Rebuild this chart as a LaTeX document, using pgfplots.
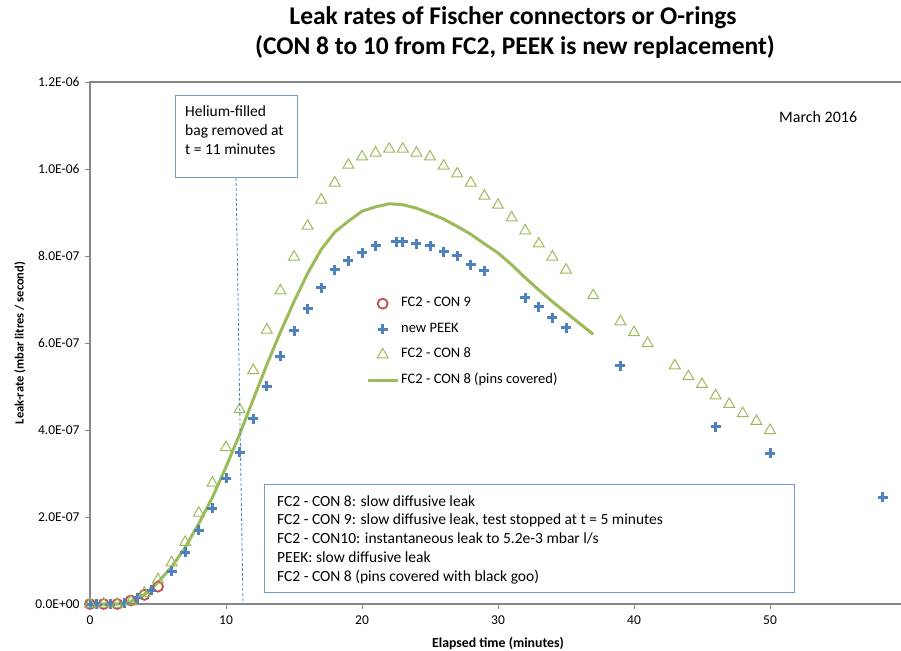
\documentclass[border=0pt]{standalone}
\usepackage{fontspec}
\setmainfont{Carlito}
\usepackage{pgfplots}
\pgfplotsset{compat=1.18}
\definecolor{xblue}{HTML}{4F81BD}
\definecolor{xgreen}{HTML}{9BBB59}
\definecolor{xred}{HTML}{C0504D}
\definecolor{axgray}{HTML}{868686}
\begin{document}
\begin{tikzpicture}[x=1pt,y=1pt]
\useasboundingbox (0,0) rectangle (901,650);
\begin{axis}[
  scale only axis, width=816pt, height=522pt,
  at={(90pt,46pt)}, anchor=south west,
  xmin=0, xmax=60, ymin=0, ymax=1.2e-6,
  clip=false,
  axis line style={axgray, line width=1.2pt},
  tick style={axgray, line width=0.8pt},
  tick align=outside, major tick length=5pt,
  xtick pos=lower, ytick pos=left,
  xtick={0,10,20,30,40,50},
  ytick={0,2e-7,4e-7,6e-7,8e-7,1e-6,1.2e-6},
  yticklabels={0.0E+00,2.0E-07,4.0E-07,6.0E-07,8.0E-07,1.0E-06,1.2E-06},
  scaled y ticks=false,
  /pgf/number format/assume math mode=true,
  ticklabel style={font=\fontsize{13.5}{15}\selectfont},
  yticklabel style={xshift=-2pt},
  xticklabel style={yshift=-3pt},
  legend style={draw=none, fill=none, at={(rel axis cs:0.3382,0.5925)}, anchor=north west,
    font=\fontsize{14.5}{16}\selectfont, row sep=8pt, inner sep=0pt,
    nodes={text height=10pt, text depth=3.5pt, inner sep=2pt}},
  legend cell align=left,
  legend image code/.code={\draw[mark repeat=2,mark phase=2,#1] plot coordinates {(0pt,0pt) (15pt,0pt) (30pt,0pt)};},
]
\addplot[only marks, mark=o, mark size=5pt, xred, line width=1.8pt] coordinates {
 (0,0) (1,0) (2,0) (3,8e-9) (4,2.1e-8) (5,4e-8)};
\addlegendentry{FC2 - CON 9}
\addplot[only marks, mark=+, mark size=5pt, xblue, line width=3pt] coordinates {
 (0,0) (0.5,0) (1.5,0) (2.5,2e-9) (3.5,1.4e-8) (4.5,3.2e-8)
 (6,7.5e-8) (7,1.19e-7) (8,1.70e-7) (9,2.2e-7) (10,2.89e-7) (11,3.49e-7) (12,4.26e-7)
 (13,5.0e-7) (14,5.69e-7) (15,6.28e-7) (16,6.79e-7) (17,7.27e-7) (18,7.68e-7) (19,7.89e-7)
 (20,8.07e-7) (21,8.23e-7) (22.5,8.33e-7) (23,8.33e-7) (24,8.28e-7) (25,8.23e-7) (26,8.1e-7)
 (27,8.0e-7) (28,7.8e-7) (29,7.66e-7) (32,7.04e-7) (33,6.83e-7) (34,6.58e-7) (35,6.35e-7)
 (39,5.48e-7) (46,4.08e-7) (50,3.46e-7) (58.3,2.45e-7)};
\addlegendentry{new PEEK}
\addplot[only marks, mark=triangle, mark size=6.3pt, xgreen, line width=1pt] coordinates {
 (0,0) (1,0) (2,0) (3,5e-9) (4,2.5e-8) (5,5.6e-8) (6,9.5e-8) (7,1.42e-7) (8,2.09e-7)
 (9,2.78e-7) (10,3.6e-7) (11,4.47e-7) (12,5.37e-7) (13,6.3e-7) (14,7.2e-7) (15,7.98e-7)
 (16,8.69e-7) (17,9.29e-7) (18,9.68e-7) (19,1.009e-6) (20,1.028e-6) (21,1.037e-6)
 (22,1.046e-6) (23,1.046e-6) (24,1.037e-6) (25,1.028e-6) (26,1.007e-6) (27,9.89e-7)
 (28,9.68e-7) (29,9.38e-7) (30,9.17e-7) (31,8.88e-7) (32,8.58e-7) (33,8.28e-7)
 (34,7.98e-7) (35,7.68e-7) (37,7.09e-7) (39,6.49e-7) (40,6.24e-7) (41,5.99e-7)
 (43,5.48e-7) (44,5.23e-7) (45,5.05e-7) (46,4.79e-7) (47,4.59e-7) (48,4.38e-7)
 (49,4.2e-7) (50,3.99e-7)};
\addlegendentry{FC2 - CON 8}
\addplot[no marks, xgreen, line width=3pt] coordinates {
 (0,0) (1,0) (2,0) (3,5e-9) (4,2.2e-8) (5,5e-8) (6,8.5e-8) (7,1.3e-7) (8,1.85e-7)
 (9,2.45e-7) (10,3.15e-7) (11,3.9e-7) (12,4.7e-7) (13,5.5e-7) (14,6.25e-7) (15,6.95e-7)
 (16,7.6e-7) (17,8.15e-7) (18,8.55e-7) (19,8.8e-7) (20,9.03e-7) (21,9.13e-7) (22,9.2e-7)
 (23,9.18e-7) (24,9.1e-7) (25,8.98e-7) (26,8.85e-7) (27,8.68e-7) (28,8.5e-7) (29,8.28e-7)
 (30,8.07e-7) (31,7.8e-7) (32,7.5e-7) (33,7.22e-7) (34,6.95e-7) (35,6.7e-7) (36,6.45e-7)
 (37,6.2e-7)};
\addlegendentry{FC2 - CON 8 (pins covered)}
\end{axis}
% titles and labels
\node[font=\bfseries\fontsize{25.5}{28}\selectfont] at (513,632) {Leak rates of Fischer connectors or O-rings};
\node[font=\bfseries\fontsize{25.5}{28}\selectfont] at (515,603) {(CON 8 to 10 from FC2, PEEK is new replacement)};
\node[font=\bfseries\fontsize{13.8}{16}\selectfont] at (498,7) {Elapsed time (minutes)};
\node[rotate=90, font=\bfseries\fontsize{12.5}{14}\selectfont] at (20,307) {Leak-rate (mbar litres / second)};
\node[anchor=west, inner sep=0pt, font=\fontsize{16}{18}\selectfont] at (779,533) {March 2016};
% helium callout
\draw[xblue, line width=0.8pt, dash pattern=on 3pt off 2pt] (236,472) -- (243,46);
\draw[xblue!80, line width=1pt, fill=white] (175,554) rectangle (297,472);
\begin{scope}[every node/.style={anchor=base west, inner sep=0pt, font=\fontsize{15.5}{17}\selectfont}]
\node at (185,533) {Helium-filled};
\node at (185,514) {bag removed at};
\node at (185,495) {t = 11 minutes};
\end{scope}
% notes box
\draw[xblue!80, line width=1pt, fill=white] (264,165) rectangle (794,58);
\begin{scope}[every node/.style={anchor=base west, inner sep=0pt, font=\fontsize{15.5}{17}\selectfont}]
\node at (277,143) {FC2 - CON 8: slow diffusive leak};
\node at (277,125) {FC2 - CON 9: slow diffusive leak, test stopped at t = 5 minutes};
\node at (277,106) {FC2 - CON10: instantaneous leak to 5.2e-3 mbar l/s};
\node at (277,87) {PEEK: slow diffusive leak};
\node at (277,68) {FC2 - CON 8 (pins covered with black goo)};
\end{scope}
\end{tikzpicture}
\end{document}
